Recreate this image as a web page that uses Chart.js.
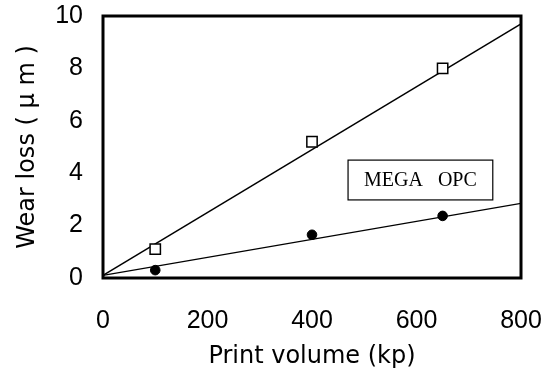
<!DOCTYPE html>
<html>
<head>
<meta charset="utf-8">
<script src="https://cdn.jsdelivr.net/npm/chart.js@4.4.0/dist/chart.umd.min.js"></script>
<style>
  html, body { margin: 0; padding: 0; background: #fff; }
  #wrap { width: 550px; height: 373px; }
</style>
</head>
<body>
<div id="wrap"><canvas id="grafico"></canvas></div>
<script>
let ctx = document.getElementById('grafico')

// dados
const volume = [100, 400, 650]
const squareLoss = [1.1, 5.2, 8.0]
const circleLoss = [0.3, 1.65, 2.37]

// retas de ajuste (extremos)
const fitX = [0, 800]
const squareFit = [0.1, 9.7]
const circleFit = [0.1, 2.85]

const xTicks = [0, 200, 400, 600, 800]
const yTicks = [0, 2, 4, 6, 8, 10]

// caixa do rótulo em coordenadas dos dados
const labelText = 'MEGA   OPC'
const labelBox = { x0: 469, x1: 746, y0: 2.98, y1: 4.5 }

const pts = (xs, ys) => xs.map((x, i) => ({ x, y: ys[i] }))

Chart.defaults.font.family = '"Liberation Sans", Arial, sans-serif'
Chart.defaults.color = '#000'

// moldura em volta da área e caixa do rótulo
const frame = {
  id: 'frame',
  afterDatasetsDraw(chart) {
    const { ctx: c, chartArea: a, scales } = chart
    c.save()
    c.strokeStyle = '#000'
    c.lineWidth = 3
    c.strokeRect(a.left, a.top, a.right - a.left, a.bottom - a.top)

    const l = scales.x.getPixelForValue(labelBox.x0)
    const r = scales.x.getPixelForValue(labelBox.x1)
    const t = scales.y.getPixelForValue(labelBox.y1)
    const b = scales.y.getPixelForValue(labelBox.y0)
    c.lineWidth = 1.2
    c.fillStyle = '#fff'
    c.fillRect(l, t, r - l, b - t)
    c.strokeRect(l, t, r - l, b - t)
    c.fillStyle = '#000'
    c.font = '20px "Liberation Serif", "Times New Roman", serif'
    c.textAlign = 'center'
    c.textBaseline = 'middle'
    c.fillText(labelText, (l + r) / 2, (t + b) / 2 + 1)
    c.restore()
  }
}

const data = {
  datasets: [
    {
      type: 'line',
      data: pts(fitX, squareFit),
      borderColor: '#000',
      borderWidth: 1.4,
      pointRadius: 0,
      order: 3
    },
    {
      type: 'line',
      data: pts(fitX, circleFit),
      borderColor: '#000',
      borderWidth: 1.4,
      pointRadius: 0,
      order: 3
    },
    {
      type: 'scatter',
      data: pts(volume, squareLoss),
      pointStyle: 'rect',
      pointRadius: 7.3,
      backgroundColor: '#fff',
      borderColor: '#000',
      borderWidth: 1.5,
      order: 1
    },
    {
      type: 'scatter',
      data: pts(volume, circleLoss),
      pointStyle: 'circle',
      pointRadius: 4.8,
      backgroundColor: '#000',
      borderColor: '#000',
      borderWidth: 1,
      order: 1
    }
  ]
}

const titleFont = { size: 24, family: '"DejaVu Sans", sans-serif' }

const config = {
  type: 'scatter',
  data,
  plugins: [frame],
  options: {
    responsive: true,
    maintainAspectRatio: false,
    animation: false,
    layout: { padding: { left: 0, top: 16, right: 29, bottom: 0 } },
    plugins: {
      legend: { display: false },
      tooltip: { enabled: false }
    },
    scales: {
      x: {
        type: 'linear',
        min: 0,
        max: 800,
        afterBuildTicks: s => { s.ticks = xTicks.map(v => ({ value: v })) },
        afterFit: s => { s.height = 95; s.paddingLeft = 0; s.paddingRight = 0 },
        grid: { display: false, drawTicks: false },
        border: { display: false },
        ticks: { font: { size: 25 }, padding: 28, maxRotation: 0 },
        title: {
          display: true,
          text: 'Print volume (kp)',
          font: titleFont,
          padding: { top: 0, bottom: 2 }
        }
      },
      y: {
        type: 'linear',
        min: 0,
        max: 10,
        afterBuildTicks: s => { s.ticks = yTicks.map(v => ({ value: v })) },
        afterFit: s => { s.width = 103; s.paddingTop = 0; s.paddingBottom = 0 },
        grid: { display: false, drawTicks: false },
        border: { display: false },
        ticks: { font: { size: 25 }, padding: 20 },
        title: {
          display: true,
          text: 'Wear loss ( μ m )',
          font: titleFont,
          padding: { top: 13, bottom: 0 }
        }
      }
    }
  }
}

const graph = new Chart(ctx, config)
</script>
</body>
</html>
